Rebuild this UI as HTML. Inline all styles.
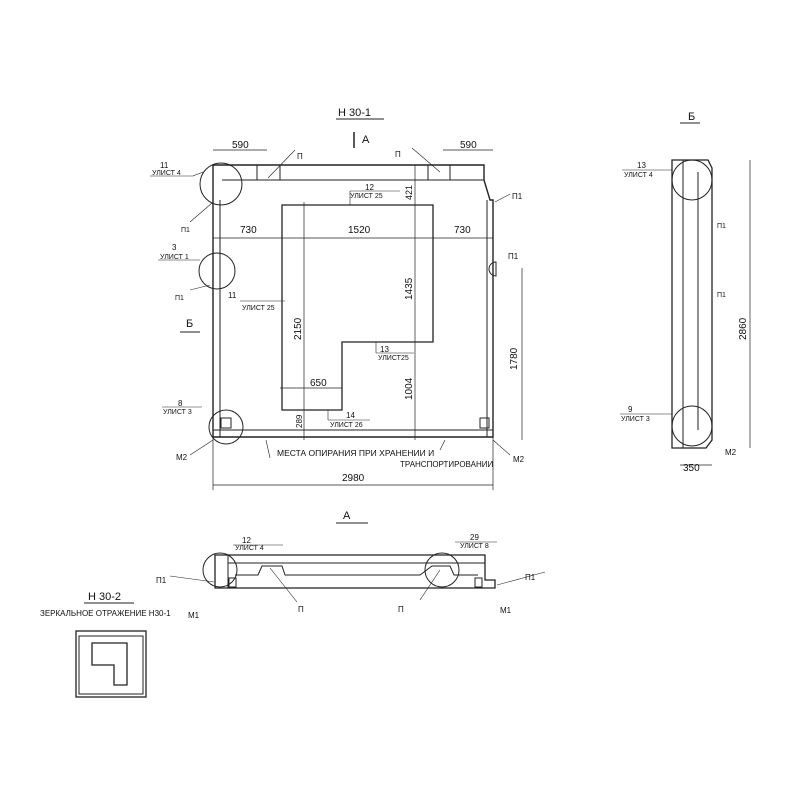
<!DOCTYPE html>
<html><head><style>body{margin:0;background:#fff}svg{display:block}text{font-family:"Liberation Sans",sans-serif;fill:#111}</style></head><body>
<svg width="800" height="800" viewBox="0 0 800 800" stroke="#222" fill="none" stroke-width="1">
<text x="338" y="116" font-size="11" stroke="none">Н 30-1</text>
<line x1="336" y1="119" x2="384" y2="119"/>
<text x="362" y="143" font-size="11" stroke="none">А</text>
<line x1="354" y1="132" x2="354" y2="148" stroke-width="1.5"/>
<path d="M213 165 L484 165 L484 180 L490 200 L493 200 L493 437 L213 437 Z" stroke-width="1.4"/>
<line x1="220" y1="200" x2="220" y2="437"/>
<line x1="487" y1="200" x2="487" y2="437"/>
<line x1="222" y1="180" x2="484" y2="180"/>
<line x1="213" y1="430" x2="493" y2="430"/>
<line x1="257" y1="165" x2="257" y2="180"/><line x1="280" y1="165" x2="280" y2="180"/>
<line x1="428" y1="165" x2="428" y2="180"/><line x1="450" y1="165" x2="450" y2="180"/>
<path d="M282 205 L433 205 L433 342 L342 342 L342 410 L282 410 Z" stroke-width="1.3"/>
<line x1="213" y1="150" x2="267" y2="150" stroke-width=".7"/><text x="232" y="148" font-size="10" stroke="none">590</text>
<line x1="443" y1="150" x2="493" y2="150" stroke-width=".7"/><text x="460" y="148" font-size="10" stroke="none">590</text>
<line x1="213" y1="238" x2="493" y2="238" stroke-width=".7"/>
<text x="240" y="233" font-size="10" stroke="none">730</text><text x="348" y="233" font-size="10" stroke="none">1520</text><text x="454" y="233" font-size="10" stroke="none">730</text>
<line x1="304" y1="202" x2="304" y2="440" stroke-width=".7"/><text transform="translate(301 340) rotate(-90)" font-size="10" stroke="none">2150</text>
<line x1="415" y1="165" x2="415" y2="440" stroke-width=".7"/>
<text transform="translate(412 200) rotate(-90)" font-size="9" stroke="none">421</text>
<text transform="translate(412 300) rotate(-90)" font-size="10" stroke="none">1435</text>
<text transform="translate(412 400) rotate(-90)" font-size="10" stroke="none">1004</text>
<line x1="522" y1="268" x2="522" y2="440" stroke-width=".7"/><text transform="translate(517 370) rotate(-90)" font-size="10" stroke="none">1780</text>
<line x1="280" y1="388" x2="342" y2="388" stroke-width=".7"/><text x="310" y="386" font-size="10" stroke="none">650</text>
<text transform="translate(302 428) rotate(-90)" font-size="8" stroke="none">289</text>
<line x1="213" y1="485" x2="493" y2="485" stroke-width=".7"/><line x1="213" y1="437" x2="213" y2="490" stroke-width=".7"/><line x1="493" y1="437" x2="493" y2="490" stroke-width=".7"/>
<text x="342" y="481" font-size="10" stroke="none">2980</text>
<circle cx="221" cy="184" r="21"/><circle cx="217" cy="271" r="18"/><circle cx="226" cy="427" r="17"/>
<path d="M496 262 a7 7 0 0 0 0 14 Z"/>
<rect x="221" y="418" width="10" height="10"/><rect x="480" y="418" width="9" height="10"/>
<text x="160" y="168" font-size="8" stroke="none">11</text><text x="152" y="175" font-size="7" stroke="none">УЛИСТ 4</text><line x1="150" y1="176" x2="193" y2="176" stroke-width=".6"/><line x1="193" y1="176" x2="203" y2="172" stroke-width=".6"/>
<text x="172" y="250" font-size="8" stroke="none">3</text><text x="160" y="259" font-size="7" stroke="none">УЛИСТ 1</text><line x1="158" y1="260" x2="200" y2="260" stroke-width=".6"/>
<text x="175" y="300" font-size="7" stroke="none">П1</text><text x="181" y="232" font-size="7" stroke="none">П1</text>
<line x1="190" y1="222" x2="212" y2="203" stroke-width=".6"/><line x1="190" y1="290" x2="210" y2="285" stroke-width=".6"/>
<text x="186" y="327" font-size="11" stroke="none">Б</text><line x1="180" y1="332" x2="200" y2="332"/>
<text x="228" y="298" font-size="8" stroke="none">11</text><text x="242" y="310" font-size="7" stroke="none">УЛИСТ 25</text><line x1="240" y1="301" x2="285" y2="301" stroke-width=".6"/>
<text x="365" y="190" font-size="8" stroke="none">12</text><text x="350" y="198" font-size="7" stroke="none">УЛИСТ 25</text><line x1="350" y1="191" x2="400" y2="191" stroke-width=".6"/><line x1="350" y1="191" x2="350" y2="205" stroke-width=".6"/>
<text x="380" y="352" font-size="8" stroke="none">13</text><text x="378" y="360" font-size="7" stroke="none">УЛИСТ25</text><line x1="376" y1="353" x2="414" y2="353" stroke-width=".6"/><line x1="376" y1="342" x2="376" y2="353" stroke-width=".6"/>
<text x="346" y="418" font-size="8" stroke="none">14</text><text x="330" y="427" font-size="7" stroke="none">УЛИСТ 26</text><line x1="328" y1="420" x2="370" y2="420" stroke-width=".6"/><line x1="328" y1="410" x2="328" y2="420" stroke-width=".6"/>
<text x="178" y="406" font-size="8" stroke="none">8</text><text x="163" y="414" font-size="7" stroke="none">УЛИСТ 3</text><line x1="162" y1="407" x2="202" y2="407" stroke-width=".6"/>
<text x="176" y="460" font-size="8" stroke="none">М2</text><text x="513" y="462" font-size="8" stroke="none">М2</text>
<line x1="190" y1="455" x2="213" y2="440" stroke-width=".6"/><line x1="510" y1="455" x2="493" y2="440" stroke-width=".6"/>
<text x="297" y="159" font-size="8" stroke="none">П</text><text x="395" y="157" font-size="8" stroke="none">П</text>
<line x1="295" y1="150" x2="268" y2="178" stroke-width=".6"/><line x1="412" y1="148" x2="440" y2="172" stroke-width=".6"/>
<text x="512" y="199" font-size="8" stroke="none">П1</text><text x="508" y="259" font-size="8" stroke="none">П1</text>
<line x1="510" y1="194" x2="495" y2="202" stroke-width=".6"/>
<text x="277" y="456" font-size="8.5" stroke="none">МЕСТА ОПИРАНИЯ ПРИ ХРАНЕНИИ И</text>
<text x="400" y="467" font-size="8" stroke="none">ТРАНСПОРТИРОВАНИИ</text>
<line x1="266" y1="440" x2="270" y2="458" stroke-width=".6"/><line x1="445" y1="440" x2="440" y2="450" stroke-width=".6"/>
<text x="688" y="120" font-size="11" stroke="none">Б</text><line x1="680" y1="123" x2="700" y2="123"/>
<path d="M672 160 L708 160 L712 168 L712 440 L706 448 L672 448 Z" stroke-width="1.3"/>
<line x1="683" y1="160" x2="683" y2="448"/><line x1="698" y1="172" x2="698" y2="430"/>
<circle cx="692" cy="180" r="20"/><circle cx="692" cy="426" r="20"/>
<line x1="680" y1="465" x2="712" y2="465" stroke-width=".7"/><text x="683" y="471" font-size="10" stroke="none">350</text>
<line x1="750" y1="160" x2="750" y2="448" stroke-width=".7"/><text transform="translate(746 340) rotate(-90)" font-size="10" stroke="none">2860</text>
<text x="637" y="168" font-size="8" stroke="none">13</text><text x="624" y="177" font-size="7" stroke="none">УЛИСТ 4</text><line x1="622" y1="170" x2="672" y2="170" stroke-width=".6"/>
<text x="628" y="412" font-size="8" stroke="none">9</text><text x="621" y="421" font-size="7" stroke="none">УЛИСТ 3</text><line x1="620" y1="414" x2="672" y2="414" stroke-width=".6"/>
<text x="717" y="228" font-size="7" stroke="none">П1</text><text x="717" y="297" font-size="7" stroke="none">П1</text><text x="725" y="455" font-size="8" stroke="none">М2</text>
<text x="343" y="519" font-size="11" stroke="none">А</text><line x1="336" y1="523" x2="368" y2="523"/>
<path d="M215 555 L485 555 L485 580 L495 580 L495 588 L215 588 Z" stroke-width="1.3"/>
<line x1="228" y1="563" x2="485" y2="563"/>
<line x1="228" y1="555" x2="228" y2="588"/>
<path d="M235 575 L258 575 L262 566 L282 566 L285 575 L420 575 L432 566 L450 566 L454 575 L478 575"/>
<rect x="229" y="578" width="7" height="9"/><rect x="475" y="578" width="7" height="9"/>
<circle cx="220" cy="570" r="17"/><circle cx="442" cy="570" r="17"/>
<text x="242" y="543" font-size="8" stroke="none">12</text><text x="235" y="550" font-size="7" stroke="none">УЛИСТ 4</text><line x1="233" y1="545" x2="283" y2="545" stroke-width=".6"/>
<text x="470" y="540" font-size="8" stroke="none">29</text><text x="460" y="548" font-size="7" stroke="none">УЛИСТ 8</text><line x1="455" y1="542" x2="497" y2="542" stroke-width=".6"/>
<text x="156" y="583" font-size="8" stroke="none">П1</text><text x="525" y="580" font-size="8" stroke="none">П1</text>
<line x1="170" y1="576" x2="214" y2="582" stroke-width=".6"/><line x1="545" y1="572" x2="497" y2="585" stroke-width=".6"/>
<text x="188" y="618" font-size="8" stroke="none">М1</text><text x="500" y="613" font-size="8" stroke="none">М1</text>
<text x="298" y="612" font-size="8" stroke="none">П</text><text x="398" y="612" font-size="8" stroke="none">П</text>
<line x1="270" y1="568" x2="297" y2="602" stroke-width=".6"/><line x1="440" y1="570" x2="420" y2="600" stroke-width=".6"/>
<text x="88" y="600" font-size="11" stroke="none">Н 30-2</text><line x1="84" y1="603" x2="134" y2="603"/>
<text x="40" y="616" font-size="8" stroke="none">ЗЕРКАЛЬНОЕ ОТРАЖЕНИЕ Н30-1</text>
<rect x="76" y="631" width="70" height="66" stroke-width="1.3"/><rect x="79" y="636" width="64" height="58"/>
<path d="M92 643 L127 643 L127 685 L114 685 L114 665 L92 665 Z" stroke-width="1.3"/>
</svg>
</body></html>
